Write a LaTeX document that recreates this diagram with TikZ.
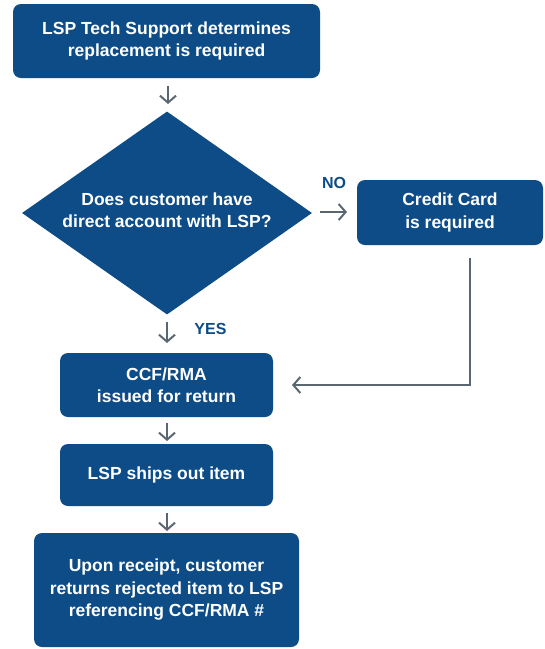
\documentclass[tikz,border=0pt]{standalone}
\usepackage{fontspec}
\setmainfont{Liberation Sans}
\usetikzlibrary{arrows.meta,shapes.geometric}
\definecolor{lspblue}{HTML}{0D4C86}
\definecolor{arrgray}{HTML}{5B6770}
\tikzset{
  box/.style={fill=lspblue, rounded corners=8pt, text=white, font=\bfseries\fontsize{17.5}{22.5}\selectfont, align=center, inner sep=0pt},
  conn/.style={draw=arrgray, line width=2pt, -{Straight Barb[length=7pt,width=16pt,line width=2pt]}},
  lbl/.style={text=lspblue, font=\bfseries\fontsize{16}{18}\selectfont}
}
\begin{document}
\begin{tikzpicture}[x=1pt,y=-1pt]
\useasboundingbox (0,0) rectangle (545,649);
\node[box, minimum width=307pt, minimum height=74pt] (top) at (166.5,41) {LSP Tech Support determines\\replacement is required};
\node[diamond, fill=lspblue, minimum width=290pt, minimum height=203pt, inner sep=0pt, aspect=1.43] (dia) at (167,213) {};
\node[text=white, font=\bfseries\fontsize{17.5}{22.5}\selectfont, align=center] (diat) at (167,210) {Does customer have\\direct account with LSP?};
\node[box, minimum width=186pt, minimum height=65pt] (cc) at (450,212.5) {Credit Card\\is required};
\node[box, minimum width=213pt, minimum height=64pt] (ccf) at (166.5,385) {CCF/RMA\\issued for return};
\node[box, minimum width=213pt, minimum height=62pt] (ship) at (166.5,475) {LSP ships out item};
\node[box, minimum width=265pt, minimum height=114pt] (ret) at (166.5,590) {Upon receipt, customer\\returns rejected item to LSP\\referencing CCF/RMA \#};
\node[lbl] (no) at (334,183) {NO};
\node[lbl] (yes) at (210.5,329) {YES};
\coordinate (a1s) at (168,86);
\coordinate (a1e) at (168,104);
\draw[conn] (a1s) -- (a1e);
\coordinate (a2s) at (320,212);
\coordinate (a2e) at (347,212);
\draw[conn] (a2s) -- (a2e);
\coordinate (a3s) at (167,322);
\coordinate (a3e) at (167,343);
\draw[conn] (a3s) -- (a3e);
\coordinate (a4s) at (470,258);
\coordinate (a4c) at (470,385);
\coordinate (a4e) at (292,385);
\draw[conn] (a4s) -- (a4c) -- (a4e);
\coordinate (a5s) at (167,423);
\coordinate (a5e) at (167,441);
\draw[conn] (a5s) -- (a5e);
\coordinate (a6s) at (167,513);
\coordinate (a6e) at (167,531);
\draw[conn] (a6s) -- (a6e);
\end{tikzpicture}
\end{document}
